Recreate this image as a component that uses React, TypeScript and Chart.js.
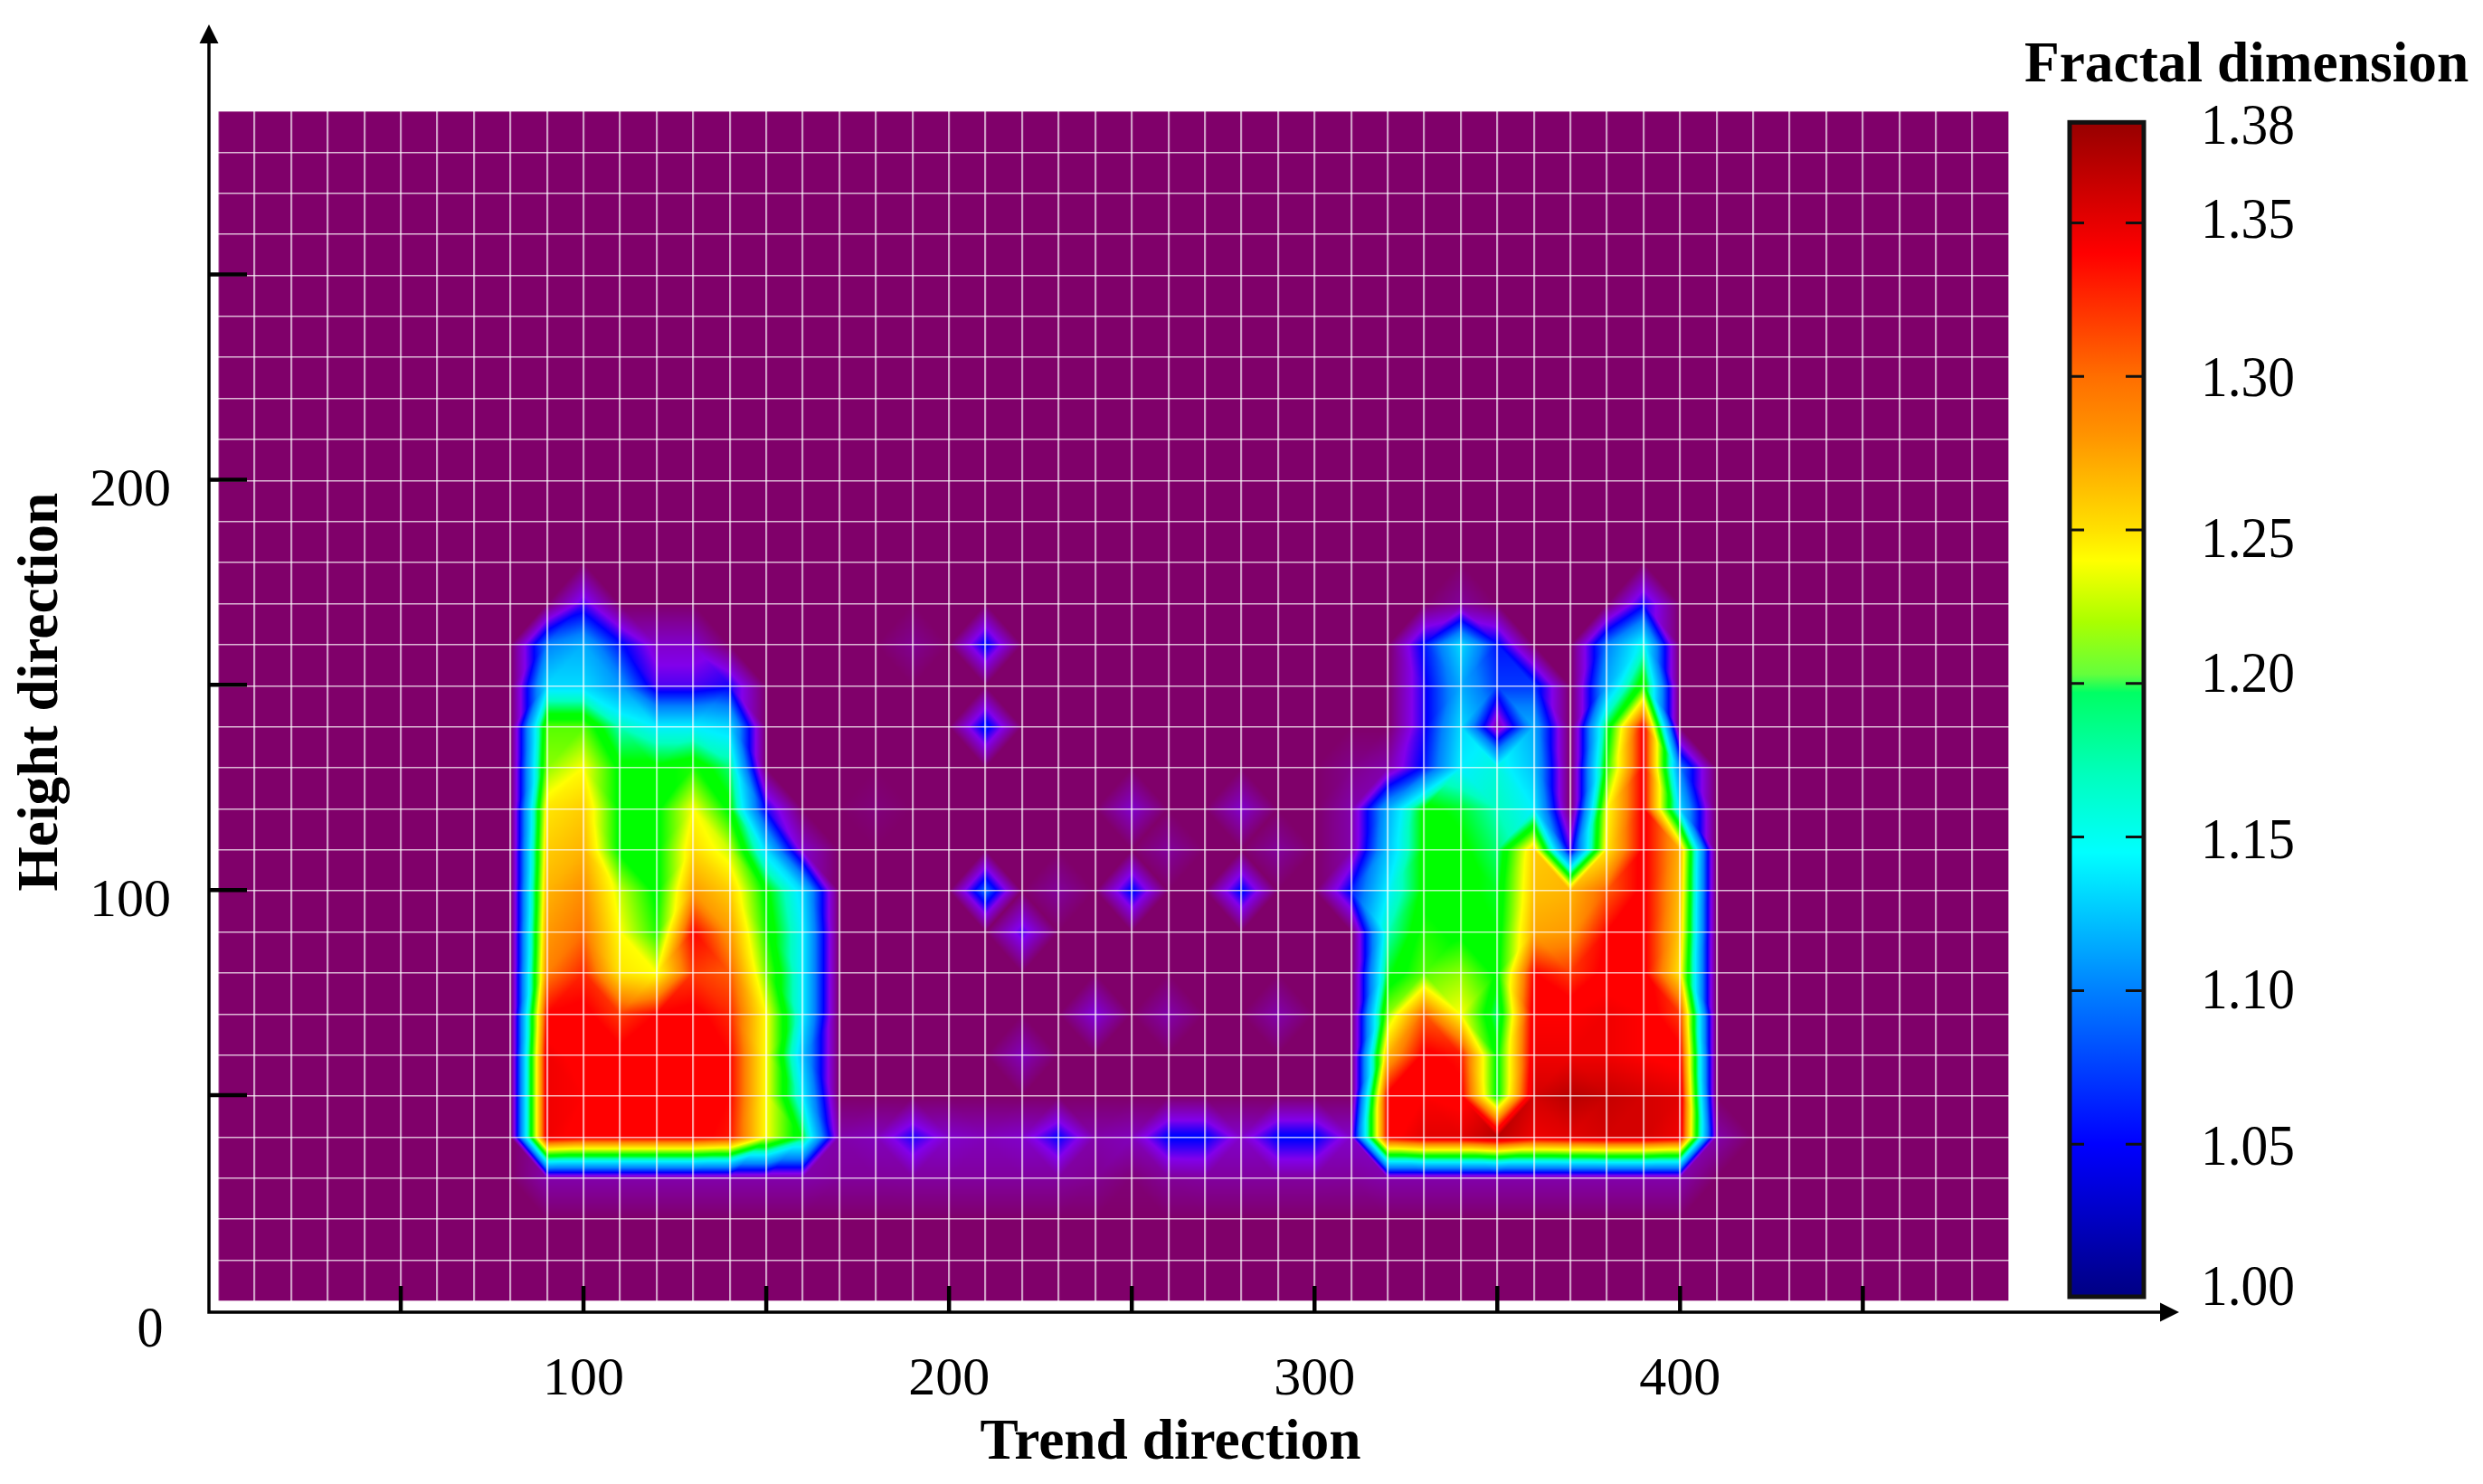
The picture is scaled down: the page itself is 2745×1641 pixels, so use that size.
import { Chart, registerables } from "chart.js";
import { useEffect, useRef } from "react";

Chart.register(...registerables);

const FONT = '"Liberation Serif"';

// trend direction of each table column
const trendValues = [
    70, 80, 90, 100, 110, 120, 130, 140, 150, 160, 170, 180,
    190, 200, 210, 220, 230, 240, 250, 260, 270, 280, 290, 300,
    310, 320, 330, 340, 350, 360, 370, 380, 390, 400, 410, 420,
];
// height direction of each table row
const heightValues = [170, 160, 150, 140, 130, 120, 110, 100, 90, 80, 70, 60, 50, 40, 30];
// fractal dimension, everything outside the table is 1.00
const fractalRows = [
    [1, 1, 1, 1.05, 1, 1, 1, 1, 1, 1, 1, 1,
     1, 1, 1, 1, 1, 1, 1, 1, 1, 1, 1, 1,
     1, 1, 1, 1.015, 1, 1, 1, 1, 1.06, 1, 1, 1],
    [1, 1, 1.1, 1.12, 1.07, 1.03, 1.03, 1, 1, 1, 1, 1,
     1.012, 1, 1.07, 1, 1, 1, 1, 1, 1, 1, 1, 1,
     1, 1, 1.07, 1.14, 1.07, 1, 1, 1.1, 1.16, 1, 1, 1],
    [1, 1, 1.14, 1.14, 1.11, 1.05, 1.05, 1.06, 1, 1, 1, 1,
     1, 1, 1, 1, 1, 1, 1, 1, 1, 1, 1, 1,
     1, 1, 1.06, 1.12, 1.08, 1.08, 1, 1.12, 1.21, 1, 1, 1],
    [1, 1, 1.22, 1.22, 1.17, 1.15, 1.15, 1.14, 1, 1, 1, 1,
     1, 1, 1.075, 1, 1, 1, 1, 1, 1, 1, 1, 1,
     1, 1, 1.06, 1.14, 1.02, 1.12, 1, 1.19, 1.34, 1, 1, 1],
    [1, 1, 1.23, 1.25, 1.2, 1.2, 1.21, 1.18, 1, 1, 1, 1,
     1, 1, 1, 1, 1, 1, 1, 1, 1, 1, 1, 1,
     1.01, 1.02, 1.07, 1.15, 1.16, 1.13, 1, 1.21, 1.34, 1.1, 1, 1],
    [1, 1, 1.26, 1.27, 1.2, 1.2, 1.25, 1.2, 1.06, 1, 1, 1.005,
     1, 1, 1, 1, 1, 1, 1.03, 1, 1, 1.03, 1, 1,
     1.02, 1.12, 1.2, 1.19, 1.17, 1.15, 1, 1.25, 1.34, 1.14, 1, 1],
    [1, 1, 1.27, 1.28, 1.2, 1.2, 1.265, 1.24, 1.14, 1.03, 1, 1,
     1, 1, 1, 1, 1, 1, 1, 1.015, 1, 1, 1.015, 1,
     1.02, 1.13, 1.2, 1.2, 1.18, 1.27, 1.05, 1.26, 1.34, 1.28, 1, 1],
    [1, 1, 1.28, 1.295, 1.24, 1.2, 1.29, 1.27, 1.2, 1.14, 1, 1,
     1, 1, 1.095, 1, 1.015, 1, 1.07, 1, 1, 1.07, 1, 1,
     1.07, 1.15, 1.2, 1.2, 1.19, 1.275, 1.28, 1.31, 1.34, 1.275, 1, 1],
    [1, 1, 1.29, 1.305, 1.25, 1.21, 1.335, 1.29, 1.21, 1.15, 1, 1,
     1, 1, 1, 1.05, 1, 1, 1, 1, 1, 1, 1, 1,
     1, 1.17, 1.21, 1.2, 1.195, 1.285, 1.29, 1.335, 1.34, 1.27, 1, 1],
    [1, 1, 1.3, 1.325, 1.26, 1.25, 1.32, 1.31, 1.225, 1.15, 1, 1,
     1, 1, 1, 1, 1, 1, 1, 1, 1, 1, 1, 1,
     1, 1.19, 1.22, 1.23, 1.2, 1.335, 1.32, 1.34, 1.34, 1.26, 1, 1],
    [1, 1, 1.335, 1.34, 1.32, 1.335, 1.34, 1.325, 1.25, 1.15, 1, 1,
     1, 1, 1, 1, 1, 1.035, 1, 1.02, 1, 1, 1.02, 1,
     1, 1.23, 1.31, 1.25, 1.18, 1.345, 1.345, 1.35, 1.345, 1.32, 1, 1],
    [1, 1, 1.35, 1.34, 1.34, 1.34, 1.34, 1.335, 1.25, 1.13, 1, 1,
     1, 1, 1, 1.025, 1, 1, 1, 1, 1, 1, 1, 1,
     1, 1.28, 1.34, 1.33, 1.2, 1.35, 1.35, 1.35, 1.345, 1.34, 1, 1],
    [1, 1, 1.35, 1.345, 1.34, 1.34, 1.34, 1.335, 1.25, 1.15, 1, 1,
     1, 1, 1, 1, 1, 1, 1, 1, 1, 1, 1, 1,
     1, 1.34, 1.345, 1.34, 1.2, 1.36, 1.37, 1.365, 1.36, 1.355, 1, 1],
    [1, 1, 1.35, 1.34, 1.34, 1.34, 1.34, 1.33, 1.25, 1.19, 1.02, 1.025,
     1.06, 1.03, 1.025, 1.03, 1.065, 1.02, 1.025, 1.068, 1.068, 1.03, 1.068, 1.068,
     1.03, 1.34, 1.355, 1.355, 1.37, 1.35, 1.355, 1.36, 1.36, 1.35, 1.02, 1],
    [1, 1, 1.02, 1.02, 1.02, 1.02, 1.02, 1.02, 1.02, 1.02, 1.015, 1.015,
     1.016, 1.016, 1.016, 1.016, 1.016, 1.012, 1.004, 1.014, 1.016, 1.016, 1.016, 1.016,
     1.015, 1.02, 1.02, 1.02, 1.02, 1.02, 1.02, 1.02, 1.02, 1.02, 1, 1],
];

const xLabelValues = [100, 200, 300, 400];
const yLabelValues = [100, 200];
const xTickValues = [50, 100, 150, 200, 250, 300, 350, 400, 450];
const yTickValues = [50, 100, 150, 200, 250];
const barLabels = ["1.00", "1.05", "1.10", "1.15", "1.20", "1.25", "1.30", "1.35", "1.38"];
const barTickValues = [1.05, 1.1, 1.15, 1.2, 1.25, 1.3, 1.35];

type Stop = [number, number, number, number];

const fieldStops: Stop[] = [
    [1.0, 128, 0, 106],
    [1.04, 130, 0, 235],
    [1.065, 0, 0, 255],
    [1.1, 0, 128, 255],
    [1.15, 0, 240, 255],
    [1.17, 0, 255, 190],
    [1.195, 0, 255, 0],
    [1.205, 0, 255, 0],
    [1.25, 255, 255, 0],
    [1.3, 255, 128, 0],
    [1.335, 255, 0, 0],
    [1.345, 255, 0, 0],
    [1.385, 140, 0, 0],
];
const barStops: Stop[] = [
    [1.0, 0, 0, 130],
    [1.05, 0, 0, 255],
    [1.1, 0, 128, 255],
    [1.145, 0, 255, 255],
    [1.17, 0, 255, 190],
    [1.197, 0, 255, 100],
    [1.203, 100, 255, 60],
    [1.22, 170, 255, 0],
    [1.24, 255, 255, 0],
    [1.25, 255, 225, 0],
    [1.282, 255, 145, 0],
    [1.3, 255, 110, 0],
    [1.34, 255, 0, 0],
    [1.383, 150, 0, 0],
];
const BAR_TOP = 1.383;

function colorAt(stops: Stop[], v: number) {
    if (v <= stops[0][0]) return stops[0].slice(1);
    for (let i = 1; i < stops.length; i++) {
        if (v <= stops[i][0]) {
            const a = stops[i - 1];
            const b = stops[i];
            const t = (v - a[0]) / (b[0] - a[0]);
            return [a[1] + (b[1] - a[1]) * t, a[2] + (b[2] - a[2]) * t, a[3] + (b[3] - a[3]) * t];
        }
    }
    return stops[stops.length - 1].slice(1);
}

const STEP = 10;

// piecewise linear value on the 10x10 mesh, each cell cut along its flatter diagonal
function fieldValue(lookup: Map<string, number>, x: number, y: number) {
    const x0 = Math.floor(x / STEP) * STEP;
    const y0 = Math.floor(y / STEP) * STEP;
    const u = (x - x0) / STEP;
    const w = (y - y0) / STEP;
    const get = (a: number, b: number) => lookup.get(a + "," + b) ?? 1;
    const a = get(x0, y0);
    const b = get(x0 + STEP, y0);
    const c = get(x0 + STEP, y0 + STEP);
    const d = get(x0, y0 + STEP);
    if (Math.abs(a - c) <= Math.abs(b - d)) {
        if (u >= w) return a + (b - a) * u + (c - b) * w;
        return a + (d - a) * w + (c - d) * u;
    }
    if (u + w <= 1) return a + (b - a) * u + (d - a) * w;
    return c + (d - c) * (1 - u) + (b - c) * (1 - w);
}

const contourPlugin = {
    id: "contour",
    beforeDatasetsDraw(chart: any) {
        const { ctx, chartArea, scales } = chart;
        const lookup = new Map<string, number>();
        chart.data.datasets[0].data.forEach((p: any) => lookup.set(p.x + "," + p.y, p.v));

        const left = Math.round(chartArea.left);
        const top = Math.round(chartArea.top);
        const w = Math.round(chartArea.right) - left;
        const h = Math.round(chartArea.bottom) - top;
        const img = ctx.createImageData(w, h);
        const xs: number[] = [];
        for (let i = 0; i < w; i++) xs.push(scales.x.getValueForPixel(left + i + 0.5));
        for (let j = 0; j < h; j++) {
            const yv = scales.y.getValueForPixel(top + j + 0.5);
            for (let i = 0; i < w; i++) {
                const col = colorAt(fieldStops, fieldValue(lookup, xs[i], yv));
                const k = (j * w + i) * 4;
                img.data[k] = col[0];
                img.data[k + 1] = col[1];
                img.data[k + 2] = col[2];
                img.data[k + 3] = 255;
            }
        }
        ctx.putImageData(img, left, top);
    },
};

function arrow(ctx: any, x1: number, y1: number, x2: number, y2: number, x3: number, y3: number) {
    ctx.beginPath();
    ctx.moveTo(x1, y1);
    ctx.lineTo(x2, y2);
    ctx.lineTo(x3, y3);
    ctx.closePath();
    ctx.fill();
}

// the labels of the colour bar do not sit exactly on its ticks in the reference
const barLabelShift: Record<string, number> = {
    "1.00": -11, "1.05": 4, "1.10": 1, "1.15": 5, "1.20": -10, "1.25": 11, "1.30": 3, "1.35": -2, "1.38": -4,
};

const decorPlugin = {
    id: "decor",
    afterDraw(chart: any) {
        const { ctx, chartArea, scales } = chart;
        const { x, y, c } = scales;
        const ox = chartArea.left - 10;
        const oy = chartArea.bottom + 12;
        ctx.save();
        ctx.fillStyle = "#000";
        ctx.strokeStyle = "#000";

        // axes with arrows
        ctx.lineWidth = 3.5;
        ctx.beginPath();
        ctx.moveTo(ox, 44);
        ctx.lineTo(ox, oy);
        ctx.lineTo(2392, oy);
        ctx.stroke();
        arrow(ctx, ox, 27, ox - 10.5, 48, ox + 10.5, 48);
        arrow(ctx, 2409, oy, 2388, oy - 10.5, 2388, oy + 10.5);

        ctx.lineWidth = 4.5;
        ctx.beginPath();
        yTickValues.forEach((v) => {
            const py = y.getPixelForValue(v) - 1;
            ctx.moveTo(ox, py);
            ctx.lineTo(ox + 42, py);
        });
        xTickValues.forEach((v) => {
            const px = x.getPixelForValue(v);
            ctx.moveTo(px, oy);
            ctx.lineTo(px, oy - 29);
        });
        ctx.stroke();

        // colour bar
        const barL = 2286;
        const barR = 2372;
        const barB = c.getPixelForValue(1);
        const barT = c.getPixelForValue(BAR_TOP);
        const grad = ctx.createLinearGradient(0, barB, 0, barT);
        barStops.forEach((s) => {
            grad.addColorStop((s[0] - 1) / (BAR_TOP - 1), `rgb(${s[1]},${s[2]},${s[3]})`);
        });
        ctx.fillStyle = grad;
        ctx.fillRect(barL, barT, barR - barL, barB - barT);
        ctx.strokeStyle = "#111";
        ctx.lineWidth = 5;
        ctx.strokeRect(barL + 2, barT + 1, barR - barL - 4, barB - barT - 2);
        ctx.lineWidth = 3;
        ctx.beginPath();
        barTickValues.forEach((v) => {
            const py = c.getPixelForValue(v);
            ctx.moveTo(barL + 4, py);
            ctx.lineTo(barL + 18, py);
            ctx.moveTo(barR - 4, py);
            ctx.lineTo(barR - 22, py);
        });
        ctx.stroke();

        // texts
        ctx.fillStyle = "#000";
        ctx.textBaseline = "middle";
        ctx.textAlign = "left";
        ctx.font = `64px ${FONT}`;
        barLabels.forEach((label) => {
            ctx.fillText(label, 2433, c.getPixelForValue(Number(label)) + barLabelShift[label] + 2, 104);
        });
        ctx.textAlign = "center";
        ctx.fillText("0", x.getPixelForValue(0) - 75, y.getPixelForValue(0) + 33, 29);

        ctx.font = `bold 63.4px ${FONT}`;
        ctx.fillText("Trend direction", x.getPixelForValue(260.6), 1597);
        ctx.textAlign = "left";
        ctx.fillText("Fractal dimension", 2238, 74);
        ctx.translate(47, y.getPixelForValue(148.5));
        ctx.rotate(-Math.PI / 2);
        ctx.textAlign = "center";
        ctx.fillText("Height direction", 0, 0);
        ctx.restore();
    },
};

const App: React.FC = () => {
    const canvasRef = useRef<HTMLCanvasElement | null>(null);

    useEffect(() => {
        if (!canvasRef.current) return;
        const ctx = canvasRef.current.getContext("2d");
        if (!ctx) return;

        const points: { x: number; y: number; v: number }[] = [];
        heightValues.forEach((h, r) => {
            trendValues.forEach((t, i) => points.push({ x: t, y: h, v: fractalRows[r][i] }));
        });

        const chartInstance = new Chart(ctx, {
            type: "scatter",
            data: {
                datasets: [{ label: "Fractal dimension", data: points as any, pointRadius: 0 }],
            },
            options: {
                responsive: false,
                devicePixelRatio: 1,
                animation: false,
                layout: { autoPadding: false, padding: { left: 0, top: 123, right: 524, bottom: 0 } },
                plugins: { legend: { display: false }, tooltip: { enabled: false } },
                scales: {
                    x: {
                        type: "linear",
                        min: 0,
                        max: 490,
                        grid: { color: "rgba(255,255,255,0.62)", lineWidth: 2.2, z: 1, drawTicks: false },
                        border: { display: false },
                        afterFit: (scale: any) => {
                            scale.height = 202;
                        },
                        ticks: {
                            stepSize: 10,
                            autoSkip: false,
                            maxRotation: 0,
                            padding: 51,
                            color: "#000",
                            font: { family: FONT, size: 60 },
                            callback: (v: any) => (xLabelValues.includes(v) ? String(v) : ""),
                        },
                    },
                    y: {
                        type: "linear",
                        min: 0,
                        max: 290,
                        grid: { color: "rgba(255,255,255,0.72)", lineWidth: 1.6, z: 1, drawTicks: false },
                        border: { display: false },
                        afterFit: (scale: any) => {
                            scale.width = 241;
                        },
                        ticks: {
                            stepSize: 10,
                            autoSkip: false,
                            padding: 52,
                            labelOffset: 12,
                            color: "#000",
                            font: { family: FONT, size: 60 },
                            callback: (v: any) => (yLabelValues.includes(v) ? String(v) : ""),
                        },
                    },
                    // hidden scale of the colour bar, same height as the plot
                    c: {
                        type: "linear",
                        axis: "y",
                        position: "right",
                        display: false,
                        min: 0.99882,
                        max: 1.38633,
                    } as any,
                },
            },
            plugins: [contourPlugin, decorPlugin],
        });
        return () => {
            chartInstance.destroy();
        };
    }, []);

    return (
        <div style={{ position: "absolute", left: 0, top: 0, width: 2745, height: 1641, background: "#fff" }}>
            <canvas ref={canvasRef} width={2745} height={1641} style={{ display: "block" }}></canvas>
        </div>
    );
};

export default App;
